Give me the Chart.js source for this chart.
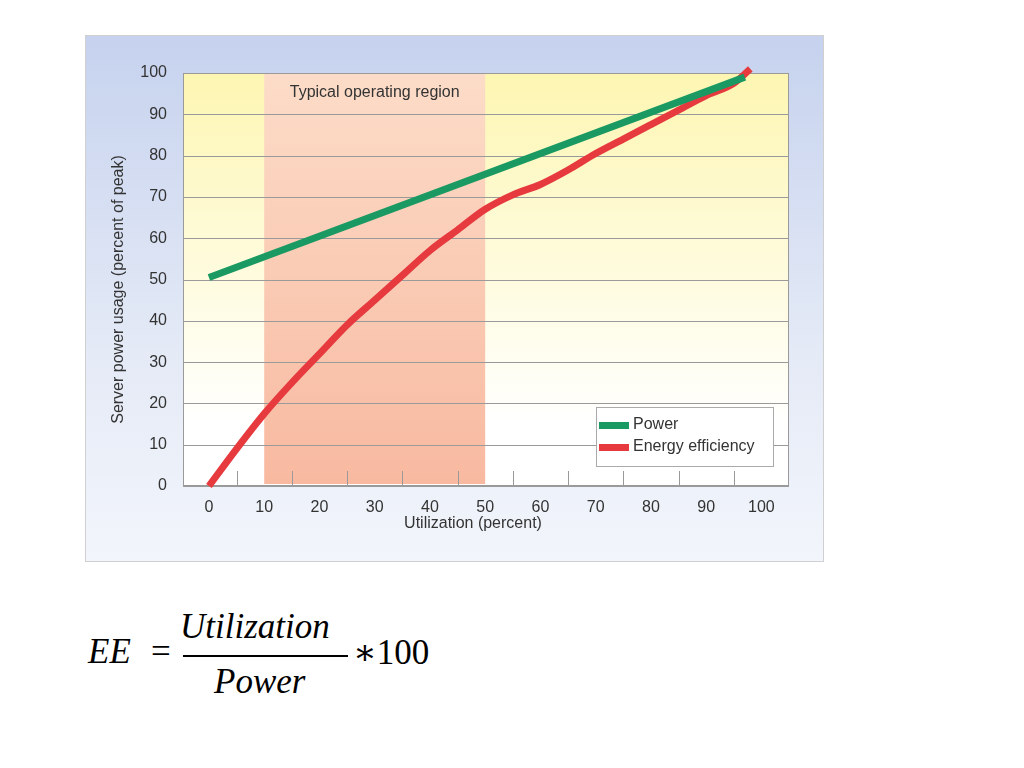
<!DOCTYPE html>
<html><head><meta charset="utf-8">
<script src="https://cdn.jsdelivr.net/npm/chart.js@4"></script>
<style>
body{margin:0;width:1024px;height:768px;background:#fff;position:relative;overflow:hidden}
#box{position:absolute;left:85px;top:35px;width:737px;height:525px;border:1px solid #d0d0d0;background:linear-gradient(#c6d2ee,#e4eaf6 60%,#f2f5fb)}
canvas{position:absolute;left:0;top:0}
.f{position:absolute;font-family:"Liberation Serif","DejaVu Serif",serif;font-size:35px;color:#000}
</style></head><body>
<div id="box"><canvas id="c" width="737" height="525"></canvas></div>
<div class="f" style="left:88px;top:632px;font-style:italic">EE</div>
<div class="f" style="left:151px;top:632px">=</div>
<div class="f" style="left:180px;top:607px;font-style:italic">Utilization</div>
<div style="position:absolute;left:183px;top:655px;width:165px;height:1.5px;background:#000"></div>
<div class="f" style="left:214px;top:662px;font-style:italic">Power</div>
<div class="f" style="left:353px;top:632px">&lowast;100</div>
<script>
const xTicks=[0,10,20,30,40,50,60,70,80,90,100];
const yTicks=[0,10,20,30,40,50,60,70,80,90,100];
const powerX=[0,97];
const powerY=[50.5,99];
const eeX=[0,5,10,15,20,25,30,35,40,45,50,55,60,65,70,75,80,85,90,95,98];
const eeY=[0,9,17.5,25,32,39,45,51,57,62,67,70.5,73,76.5,80.5,84,87.5,91,94.5,97.5,101];
const region=[10,50];
const FONT='"Liberation Sans Narrow","Liberation Sans",Arial,sans-serif';
const pts=(xs,ys)=>xs.map((x,i)=>({x,y:ys[i]}));
const deco={id:'deco',
beforeDatasetsDraw(ch){const {ctx,chartArea:a,scales:{x,y}}=ch;ctx.save();
 let g=ctx.createLinearGradient(0,a.top,0,a.bottom);g.addColorStop(0,'#fdf6b2');g.addColorStop(0.85,'#ffffff');g.addColorStop(1,'#ffffff');
 ctx.fillStyle=g;ctx.fillRect(a.left,a.top,a.right-a.left,a.bottom-a.top);
 let g2=ctx.createLinearGradient(0,a.top,0,a.bottom);g2.addColorStop(0,'#fcdcc8');g2.addColorStop(1,'#f8b9a0');
 ctx.fillStyle=g2;const x0=x.getPixelForValue(region[0]),x1=x.getPixelForValue(region[1]);
 ctx.fillRect(x0,a.top,x1-x0,a.bottom-a.top-2);
 ctx.strokeStyle='#9a9a9a';ctx.lineWidth=1;
 yTicks.forEach(v=>{const p=Math.round(y.getPixelForValue(v))+0.5;ctx.beginPath();ctx.moveTo(a.left,p);ctx.lineTo(a.right,p);ctx.stroke();});
 ctx.strokeRect(a.left+0.5,a.top+0.5,a.right-a.left-1,a.bottom-a.top-1);
 for(let v=5;v<100;v+=10){const p=Math.round(x.getPixelForValue(v))+0.5;ctx.beginPath();ctx.moveTo(p,a.bottom);ctx.lineTo(p,a.bottom-15);ctx.stroke();}
 ctx.fillStyle='#333';ctx.font='16px '+FONT;ctx.textAlign='center';ctx.textBaseline='middle';
 ctx.fillText('Typical operating region',(x0+x1)/2,a.top+20);
 ctx.restore();},
afterDraw(ch){const {ctx,chartArea:a}=ch;ctx.save();
 ctx.fillStyle='#333';ctx.font='16px '+FONT;ctx.textAlign='center';ctx.textBaseline='middle';
 ctx.fillText('Utilization (percent)',(a.left+a.right)/2-13,488);
 ctx.translate(33,(a.top+a.bottom)/2+10);ctx.rotate(-Math.PI/2);ctx.fillText('Server power usage (percent of peak)',0,0);ctx.restore();
 ctx.save();ctx.fillStyle='#fff';ctx.strokeStyle='#aaa';ctx.fillRect(510,371,177,59);ctx.strokeRect(510.5,371.5,177,59);
 ctx.fillStyle='#1a9a62';ctx.fillRect(513,386,30,7);ctx.fillStyle='#e63a3f';ctx.fillRect(513,408,30,7);
 ctx.fillStyle='#333';ctx.font='16px '+FONT;ctx.textBaseline='middle';ctx.fillText('Power',547,389);ctx.fillText('Energy efficiency',547,411);ctx.restore();}
};
new Chart(document.getElementById('c'),{type:'scatter',
data:{datasets:[
 {label:'Power',data:pts(powerX,powerY),showLine:true,borderColor:'#1a9a62',borderWidth:7,pointRadius:0,clip:false,borderCapStyle:'butt'},
 {label:'Energy efficiency',data:pts(eeX,eeY),showLine:true,borderColor:'#e63a3f',borderWidth:7,pointRadius:0,tension:0.4,cubicInterpolationMode:'monotone',clip:false}]},
options:{responsive:false,animation:false,devicePixelRatio:1,
 layout:{padding:{top:37,right:34,left:0,bottom:0}},
 plugins:{legend:{display:false},tooltip:{enabled:false}},
 scales:{
  x:{type:'linear',min:-4.7,max:105,grid:{display:false},border:{display:false},
     afterBuildTicks:s=>{s.ticks=xTicks.map(v=>({value:v}));},
     afterFit:s=>{s.height=75;},
     ticks:{color:'#333',font:{size:16,family:FONT},padding:4,maxRotation:0}},
  y:{min:0,max:100,grid:{display:false},border:{display:false},
     afterBuildTicks:s=>{s.ticks=yTicks.map(v=>({value:v}));},
     afterFit:s=>{s.width=97;},
     ticks:{color:'#333',font:{size:16,family:FONT},padding:8}}}},
plugins:[deco]});
</script></body></html>
